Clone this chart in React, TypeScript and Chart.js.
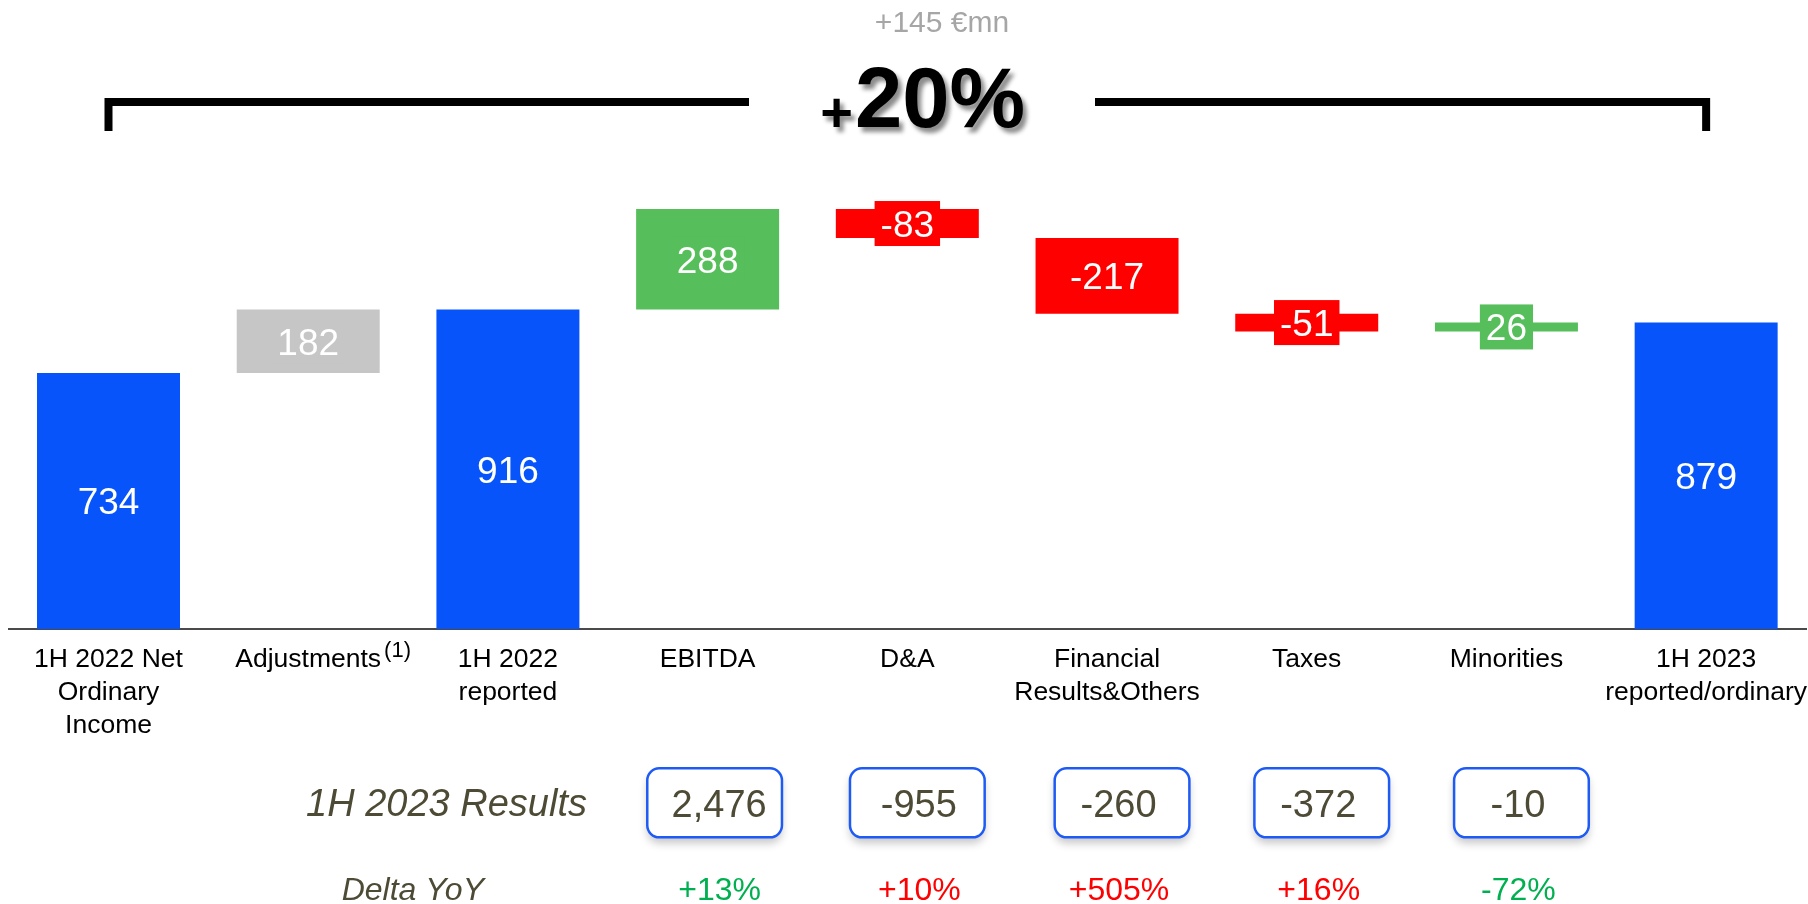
import React, { useEffect, useRef } from "react";
import { Chart, registerables } from "chart.js";

Chart.register(...registerables);

// ---------- data ----------
const categories: string[][] = [
  ["1H 2022 Net", "Ordinary", "Income"],
  ["Adjustments"],
  ["1H 2022", "reported"],
  ["EBITDA"],
  ["D&A"],
  ["Financial", "Results&Others"],
  ["Taxes"],
  ["Minorities"],
  ["1H 2023", "reported/ordinary"],
];
const stepValues = [734, 182, 916, 288, -83, -217, -51, 26, 879];
const stepKinds = ["total", "adjust", "total", "up", "down", "down", "down", "up", "total"];
const footnoteMark = "(1)";

const resultCategories = ["EBITDA", "D&A", "Financial", "Taxes", "Minorities"];
const resultValues = ["2,476", "-955", "-260", "-372", "-10"];
const deltaYoY = ["+13%", "+10%", "+505%", "+16%", "-72%"];
const deltaFavourable = [true, false, false, false, true];

const headlineSign = "+";
const headlinePct = "20%";
const headlineAbs = "+145 €mn";
const resultsTitle = "1H 2023 Results";
const deltaTitle = "Delta YoY";

// ---------- styles ----------
const FONT = "'Liberation Sans', Arial, sans-serif";
const KIND_COLORS: Record<string, string> = {
  total: "#0755FA",
  adjust: "#C6C6C6",
  up: "#57BE5C",
  down: "#FF0000",
};
const OLIVE = "#4D4A35";
const TICK_SIZE = 26.5;

function buildRanges(): [number, number][] {
  let run = 0;
  return stepValues.map((v, i) => {
    if (stepKinds[i] === "total") {
      run = v;
      return [0, v] as [number, number];
    }
    const s = run;
    run += v;
    return [s, run] as [number, number];
  });
}

const valueLabelPlugin = {
  id: "valueLabels",
  afterDatasetsDraw(chart: any) {
    const ctx = chart.ctx;
    const meta = chart.getDatasetMeta(0);
    ctx.save();
    ctx.font = `37px ${FONT}`;
    meta.data.forEach((el: any, i: number) => {
      const { x, y, base } = el.getProps(["x", "y", "base"], true);
      const cy = (y + base) / 2;
      const text = String(stepValues[i]);
      const tw = ctx.measureText(text).width;
      if (stepKinds[i] !== "total") {
        ctx.fillStyle = KIND_COLORS[stepKinds[i]];
        ctx.fillRect(x - tw / 2 - 6, cy - 22.5, tw + 12, 45);
      }
      ctx.fillStyle = "#FFFFFF";
      ctx.textAlign = "center";
      ctx.textBaseline = "alphabetic";
      ctx.fillText(text, x, cy + 13.3);
    });
    ctx.restore();
  },
};

const overlayPlugin = {
  id: "overlay",
  afterDraw(chart: any) {
    const ctx = chart.ctx;
    const xs = chart.scales.x;
    const px = (i: number) => xs.getPixelForValue(i);
    ctx.save();

    // bracket
    ctx.strokeStyle = "#000";
    ctx.lineWidth = 8;
    ctx.lineJoin = "miter";
    ctx.lineCap = "butt";
    const x0 = px(0);
    const x8 = px(categories.length - 1);
    ctx.beginPath();
    ctx.moveTo(x0, 131);
    ctx.lineTo(x0, 102);
    ctx.lineTo(749, 102);
    ctx.stroke();
    ctx.beginPath();
    ctx.moveTo(1095, 102);
    ctx.lineTo(x8, 102);
    ctx.lineTo(x8, 131);
    ctx.stroke();

    // headline abs
    ctx.fillStyle = "#A6A6A6";
    ctx.font = `30px ${FONT}`;
    ctx.textAlign = "center";
    ctx.textBaseline = "alphabetic";
    ctx.fillText(headlineAbs, 942, 31.5);

    // headline pct with shadow
    ctx.save();
    ctx.shadowColor = "rgba(0,0,0,0.45)";
    ctx.shadowOffsetX = 4;
    ctx.shadowOffsetY = 5;
    ctx.shadowBlur = 4;
    ctx.fillStyle = "#000";
    ctx.font = `bold 56px ${FONT}`;
    ctx.textAlign = "right";
    ctx.fillText(headlineSign, 853, 131);
    ctx.font = `bold 85px ${FONT}`;
    ctx.textAlign = "left";
    ctx.fillText(headlinePct, 855, 127);
    ctx.restore();

    // footnote mark after "Adjustments"
    ctx.font = `${TICK_SIZE}px ${FONT}`;
    const adjW = ctx.measureText(categories[1][0]).width;
    ctx.font = `22px ${FONT}`;
    ctx.fillStyle = "#000";
    ctx.textAlign = "left";
    ctx.fillText(footnoteMark, px(1) + adjW / 2 + 3, 657);

    // results row
    ctx.fillStyle = OLIVE;
    ctx.font = `italic 38px ${FONT}`;
    ctx.textAlign = "right";
    ctx.fillText(resultsTitle, 587, 816);
    ctx.font = `italic 32px ${FONT}`;
    ctx.fillText(deltaTitle, 484, 900);

    const boxOffsets = [7, 10, 15, 15, 15];
    resultCategories.forEach((name, k) => {
      const idx = categories.findIndex((c) => c[0] === name);
      const cx = px(idx);
      const bx = cx + boxOffsets[k];
      const w = 134.7, h = 69, top = 768.3;
      ctx.save();
      ctx.shadowColor = "rgba(0,0,0,0.22)";
      ctx.shadowBlur = 8;
      ctx.shadowOffsetY = 6;
      ctx.fillStyle = "#FFFFFF";
      ctx.beginPath();
      ctx.roundRect(bx - w / 2, top, w, h, 12);
      ctx.fill();
      ctx.restore();
      ctx.strokeStyle = "#1E5BF5";
      ctx.lineWidth = 2.5;
      ctx.beginPath();
      ctx.roundRect(bx - w / 2, top, w, h, 12);
      ctx.stroke();

      ctx.fillStyle = OLIVE;
      ctx.font = `38px ${FONT}`;
      ctx.textAlign = "center";
      ctx.fillText(resultValues[k], cx + 11.5, 816.5);

      ctx.fillStyle = deltaFavourable[k] ? "#00B050" : "#FF0000";
      ctx.font = `32px ${FONT}`;
      ctx.fillText(deltaYoY[k], cx + 12, 900);
    });

    ctx.restore();
  },
};

export default function App() {
  const ref = useRef<HTMLCanvasElement | null>(null);
  useEffect(() => {
    if (!ref.current) return;
    const ranges = buildRanges();
    const chart = new Chart(ref.current, {
      type: "bar",
      data: {
        labels: categories,
        datasets: [
          {
            data: ranges as any,
            backgroundColor: stepKinds.map((k) => KIND_COLORS[k]),
            borderWidth: 0,
            borderSkipped: false,
            barPercentage: 0.716,
            categoryPercentage: 1,
          },
        ],
      },
      options: {
        responsive: false,
        animation: false,
        events: [],
        layout: { padding: { left: 8.65, right: 2, top: 105.8, bottom: 0 } },
        plugins: { legend: { display: false }, tooltip: { enabled: false } },
        scales: {
          x: {
            offset: true,
            grid: { display: false },
            border: { display: true, color: "#4A4A4A", width: 2 },
            ticks: {
              color: "#000",
              font: { family: FONT, size: TICK_SIZE, lineHeight: "33px" },
              padding: 6.5,
              maxRotation: 0,
              autoSkip: false,
            },
            afterFit: (scale: any) => {
              scale.height = 275;
              scale.paddingLeft = 0;
              scale.paddingRight = 0;
            },
          },
          y: { display: false, min: 0, max: 1500 },
        },
      },
      plugins: [valueLabelPlugin, overlayPlugin],
    });
    return () => chart.destroy();
  }, []);
  return (
    <div style={{ position: "absolute", left: 0, top: 0, width: 1808, height: 904, background: "#fff" }}>
      <canvas ref={ref} width={1808} height={904} />
    </div>
  );
}
